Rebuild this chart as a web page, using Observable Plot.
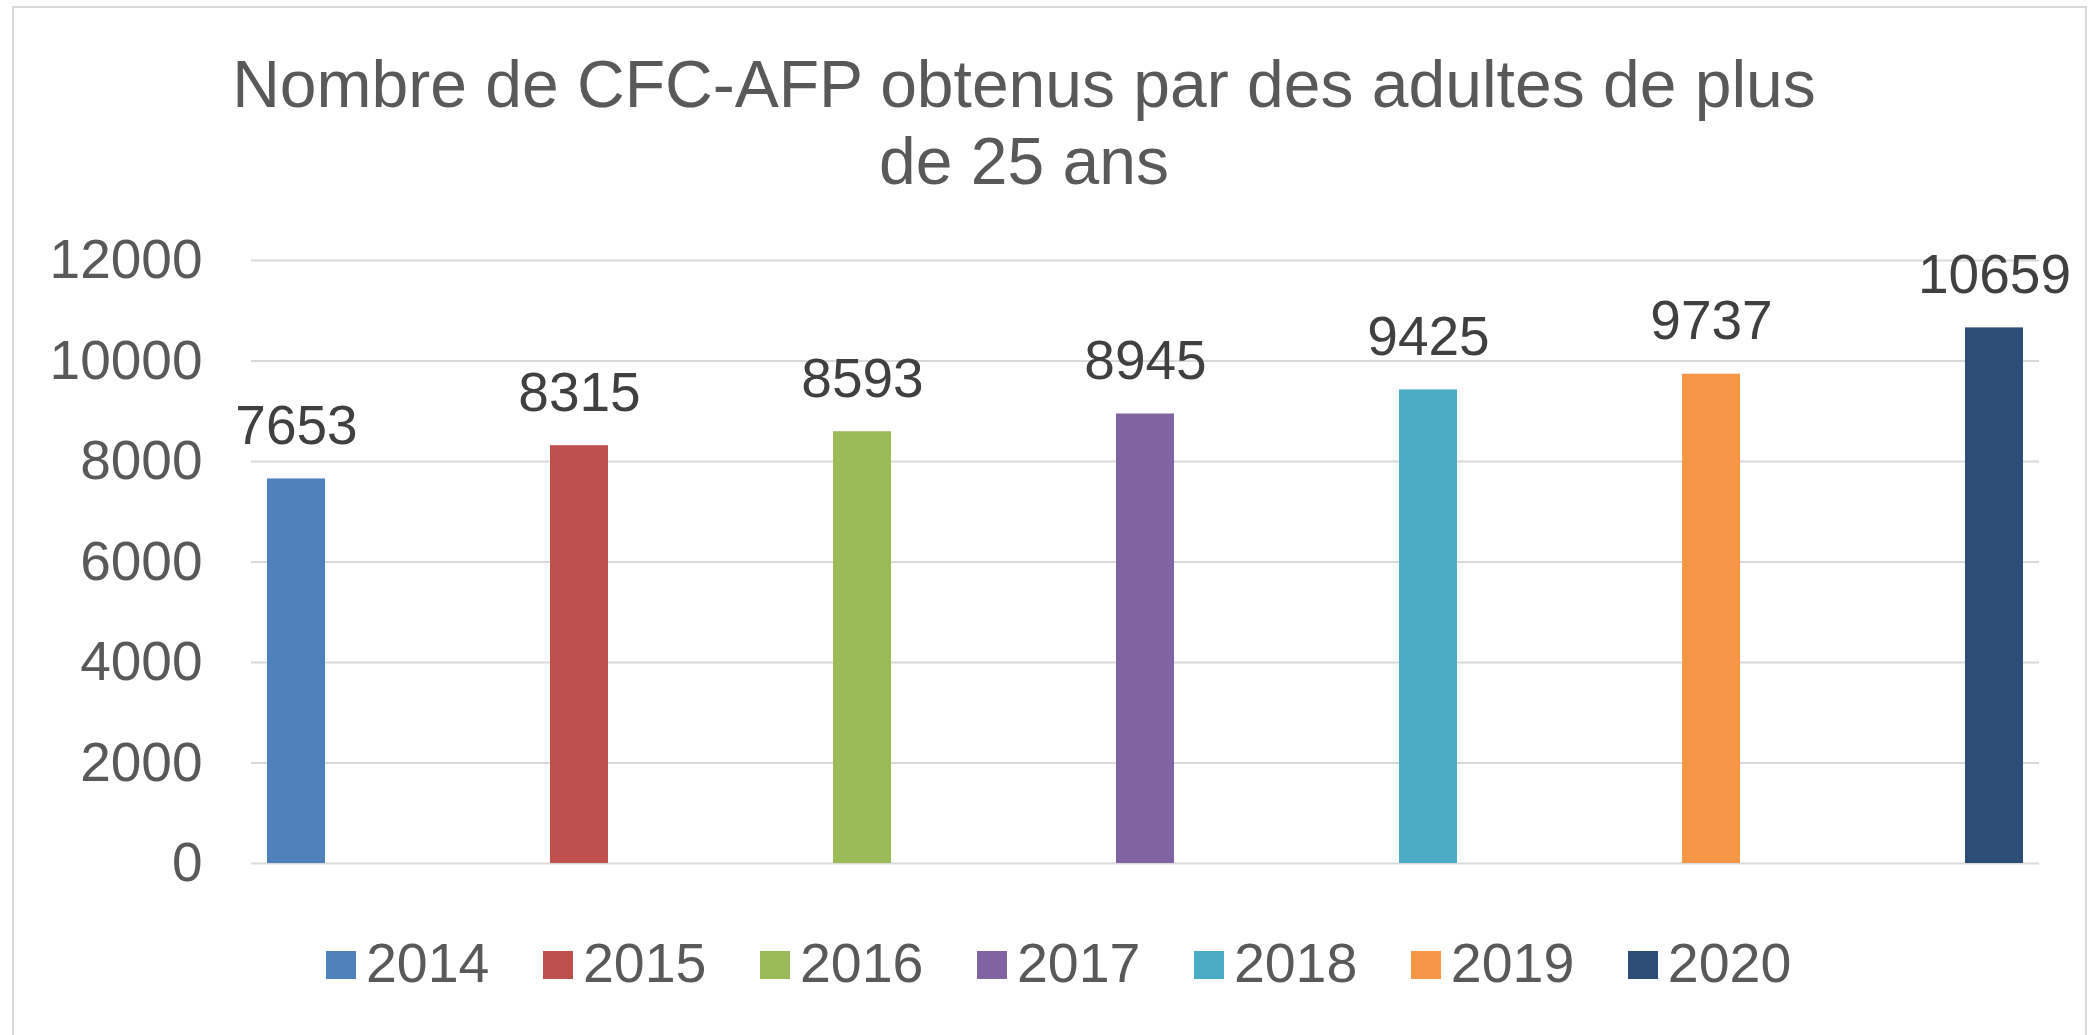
<!DOCTYPE html>
<html>
<head>
<meta charset="utf-8">
<script src="https://cdn.jsdelivr.net/npm/d3@7"></script>
<script src="https://cdn.jsdelivr.net/npm/@observablehq/plot@0.6"></script>
<style>
  html, body { margin: 0; padding: 0; background: #fff; overflow: hidden; }
  #wrap { position: relative; width: 2091px; height: 1035px; font-family: "Liberation Sans", Arial, sans-serif; }
  #frame { position: absolute; left: 12px; top: 6px; width: 2075px; height: 1040px; border: 2px solid #D9D9D9; box-sizing: border-box; pointer-events: none; }
  #title { position: relative; box-sizing: border-box; width: 2048px; height: 220px; padding-top: 46px; text-align: center; font-size: 66px; line-height: 76.7px; color: #595959; white-space: nowrap; }
  #chart svg { display: block; }
  #legend { box-sizing: border-box; padding-left: 326px; padding-top: 3px; font-size: 55.5px; line-height: 100px; color: #595959; white-space: nowrap; }
  .sw { display: inline-block; width: 30px; height: 28px; margin-right: 10px; margin-bottom: 3px; vertical-align: baseline; }
  .item { display: inline-block; margin-right: 53.5px; }
</style>
</head>
<body>
<div id="wrap">
  <div id="frame"></div>
  <div id="title">Nombre de CFC-AFP obtenus par des adultes de plus<br>de 25 ans</div>
  <div id="chart"></div>
  <div id="legend"></div>
</div>
<script>
const years = ["2014", "2015", "2016", "2017", "2018", "2019", "2020"];
const values = [7653, 8315, 8593, 8945, 9425, 9737, 10659];
const colors = ["#4F81BD", "#C0504D", "#9BBB59", "#8064A2", "#4BACC6", "#F79646", "#2C4D75"];
const yTicks = [0, 2000, 4000, 6000, 8000, 10000, 12000];

const data = years.map((year, i) => ({year, value: values[i]}));

const chart = Plot.plot({
  width: 2091,
  height: 690,
  marginTop: 40,
  marginBottom: 47,
  marginLeft: 251,
  marginRight: 52,
  style: {fontFamily: '"Liberation Sans", Arial, sans-serif', fontSize: "55px", color: "#595959", background: "transparent"},
  x: {domain: years, axis: null, paddingInner: 0.795, paddingOuter: 0.047},
  y: {domain: [0, 12000], label: null},
  color: {domain: years, range: colors},
  marks: [
    Plot.ruleY(yTicks, {stroke: "#D9D9D9", strokeWidth: 2}),
    Plot.axisY({ticks: yTicks, tickSize: 0, tickPadding: 49, fontSize: 55, label: null, tickFormat: d => String(d)}),
    Plot.barY(data, {x: "year", y: "value", fill: "year"}),
    Plot.text(data, {x: "year", y: "value", text: d => String(d.value), dy: -35, lineAnchor: "bottom", fontSize: 55, fill: "#404040"})
  ]
});
document.getElementById("chart").appendChild(chart);

const legend = document.getElementById("legend");
years.forEach((y, i) => {
  const item = document.createElement("span");
  item.className = "item";
  const sw = document.createElement("span");
  sw.className = "sw";
  sw.style.background = colors[i];
  item.appendChild(sw);
  item.appendChild(document.createTextNode(y));
  legend.appendChild(item);
});
</script>
</body>
</html>
